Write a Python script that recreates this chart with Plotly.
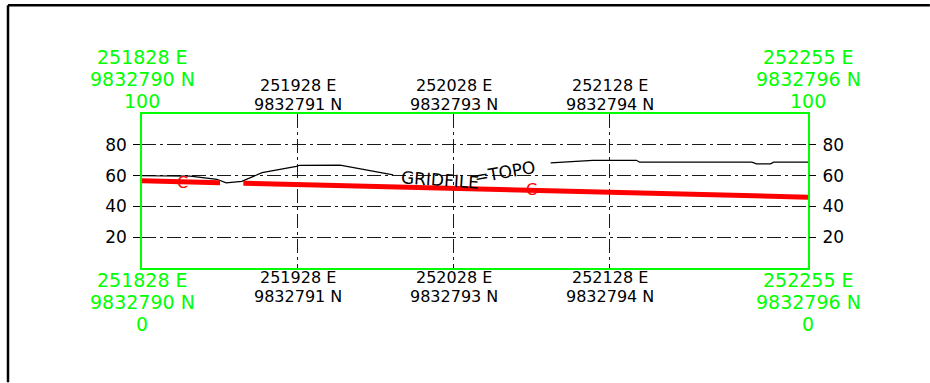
import plotly.graph_objects as go

# Station labels along the section (easting / northing)
station_e = [251828, 251928, 252028, 252128, 252255]
station_n = [9832790, 9832791, 9832793, 9832794, 9832796]
elev_min, elev_max = 0, 100
elev_ticks = [20, 40, 60, 80]

# Existing ground (GRIDFILE=TOPO); None leaves room for the line label
ground_e = [251828, 251859, 251876, 251882, 251892, 251905, 251927, 251929, 251955, 251961,
            251989, None,
            252090, 252117, 252145, 252147, 252219, 252222, 252231, 252233, 252255]
ground_z = [59.9, 59.6, 57.6, 55.3, 56.3, 61.9, 66.0, 66.7, 66.8, 65.7,
            60.5, None,
            68.3, 69.9, 69.9, 68.7, 68.7, 67.6, 67.6, 68.7, 68.7]

# Design profile
design_e = [251828, 251878, None, 251893, 251928, 252028, 252128, 252255]
design_z = [56.6, 55.4, None, 55.0, 54.1, 51.6, 49.1, 46.0]

# Curve markers on the design profile
marker_e = [251854, 252078]
marker_z = [55.3, 50.8]

GREEN = "#00ff00"
FONT = "DejaVu Sans"
GRID_DASH = "14px,4px,3px,4px"

fig = go.Figure()
fig.add_trace(go.Scatter(x=ground_e, y=ground_z, mode="lines",
                         line=dict(color="black", width=1.2),
                         connectgaps=False, hoverinfo="skip", showlegend=False))
fig.add_trace(go.Scatter(x=design_e, y=design_z, mode="lines",
                         line=dict(color="#ff0000", width=5),
                         connectgaps=False, hoverinfo="skip", showlegend=False,
                         xaxis="x", yaxis="y2"))

annotations = []

# Line label following the ground profile
annotations.append(dict(x=252019, y=57.4, xref="x", yref="y", text="GRIDFILE",
                        showarrow=False, textangle=4,
                        font=dict(family=FONT, size=17, color="black")))
annotations.append(dict(x=252061, y=62.2, xref="x", yref="y", text="=TOPO",
                        showarrow=False, textangle=-10,
                        font=dict(family=FONT, size=17, color="black")))

for e, z in zip(marker_e, marker_z):
    annotations.append(dict(x=e, y=z, xref="x", yref="y", text="C", showarrow=False,
                            font=dict(family=FONT, size=16, color="#ff0000")))

# Station labels: ends in green with elevation limits, interior in black
for i, (e, n) in enumerate(zip(station_e, station_n)):
    end = i == 0 or i == len(station_e) - 1
    if end:
        top_lines = [(f"{e} E", 58), (f"{n} N", 80), (f"{elev_max}", 102)]
        bot_lines = [(f"{e} E", 281.5), (f"{n} N", 303.5), (f"{elev_min}", 325.5)]
        color, size = GREEN, 19
    else:
        top_lines = [(f"{e} E", 86.5), (f"{n} N", 105)]
        bot_lines = [(f"{e} E", 279), (f"{n} N", 297.5)]
        color, size = "black", 16
    for txt, py in top_lines:
        annotations.append(dict(x=e, y=1, xref="x", yref="paper", yanchor="middle",
                                yshift=114 - py + 1, text=txt, showarrow=False,
                                borderpad=0,
                                font=dict(family=FONT, size=size, color=color)))
    for txt, py in bot_lines:
        annotations.append(dict(x=e, y=0, xref="x", yref="paper", yanchor="middle",
                                yshift=268.5 - py + 1, text=txt, showarrow=False,
                                borderpad=0,
                                font=dict(family=FONT, size=size, color=color)))

# Outer sheet border: left and top edges, stopping at the figure edges
border = dict(color="black", width=2.5)
shapes = [
    dict(type="line", xref="paper", yref="paper", x0=-0.2012, x1=-0.2012,
         y0=-0.742, y1=1.7055, line=border, layer="below"),
    dict(type="line", xref="paper", yref="paper", x0=-0.2012, x1=1.183,
         y0=1.7055, y1=1.7055, line=border, layer="below"),
]

yaxis_common = dict(range=[elev_min, elev_max], tickvals=elev_ticks,
                    ticks="outside", ticklen=7, tickcolor="black", tickwidth=1.3,
                    tickfont=dict(family=FONT, size=17, color="black"),
                    zeroline=False, fixedrange=True, ticklabelstandoff=3)

fig.update_layout(
    width=930, height=383,
    margin=dict(l=142, r=122, t=114, b=114.5),
    paper_bgcolor="white", plot_bgcolor="white",
    xaxis=dict(range=[station_e[0], station_e[-1]], tickvals=station_e[1:-1],
               showticklabels=False, ticks="",
               showgrid=True, gridcolor="#1a1a1a", gridwidth=1.3, griddash=GRID_DASH,
               zeroline=False, showline=True, linecolor=GREEN, linewidth=1.6,
               mirror=True, fixedrange=True),
    yaxis=dict(**yaxis_common, side="left",
               showgrid=True, gridcolor="#1a1a1a", gridwidth=1.3, griddash=GRID_DASH,
               showline=True, linecolor=GREEN, linewidth=1.6, mirror=True),
    yaxis2=dict(**yaxis_common, side="right", overlaying="y", showgrid=False,
                showline=False),
    annotations=annotations,
    shapes=shapes,
    showlegend=False,
)

fig.write_html("out.html")
